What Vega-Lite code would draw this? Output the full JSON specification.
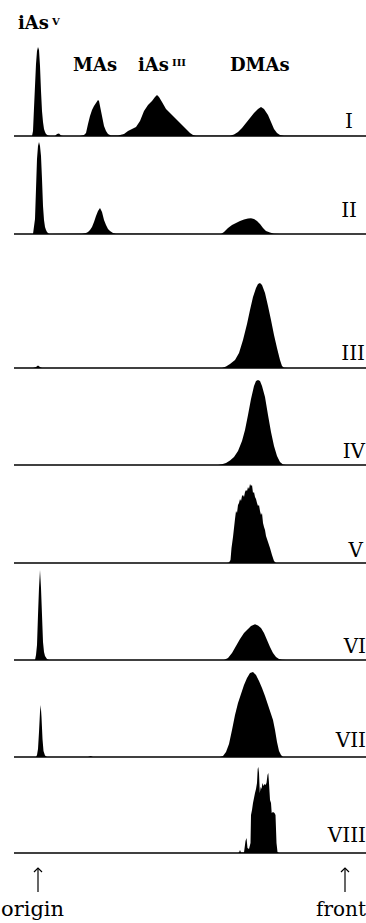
{
  "$schema": "https://vega.github.io/schema/vega-lite/v6.json",
  "padding": {"left": 1, "top": 0, "right": 0, "bottom": 0},
  "background": "white",
  "bounds": "flush",
  "spacing": 0,
  "resolve": {"scale": {"y": "independent"}},
  "config": {"view": {"stroke": null}, "axis": {"disable": true, "grid": false, "domain": false, "ticks": false, "labels": false, "title": null, "minExtent": 0, "maxExtent": 0}, "text": {"color": "black"}},
  "datasets": {
    "p1": [{"d":-24,"s":0},{"d":-6,"s":0},{"d":-5,"s":5},{"d":-4,"s":28},{"d":-3,"s":50},{"d":-2,"s":72},{"d":-1,"s":85},{"d":0,"s":89},{"d":1,"s":86},{"d":2,"s":70},{"d":3,"s":45},{"d":4,"s":25},{"d":5,"s":14},{"d":6,"s":7},{"d":7,"s":4},{"d":8,"s":2},{"d":10,"s":0.5},{"d":12,"s":0},{"d":17,"s":0},{"d":19,"s":2},{"d":21,"s":2.5},{"d":23,"s":0.5},{"d":25,"s":0},{"d":42,"s":0},{"d":46,"s":1},{"d":48,"s":3},{"d":50,"s":12},{"d":52,"s":20},{"d":54,"s":26},{"d":56,"s":30},{"d":58,"s":33},{"d":60,"s":36},{"d":61,"s":35},{"d":62,"s":30},{"d":64,"s":20},{"d":66,"s":10},{"d":68,"s":5},{"d":70,"s":2},{"d":73,"s":0.5},{"d":76,"s":0.5},{"d":80,"s":0.5},{"d":86,"s":2},{"d":90,"s":5},{"d":94,"s":7},{"d":98,"s":9},{"d":102,"s":15},{"d":106,"s":25},{"d":110,"s":31},{"d":114,"s":35},{"d":117,"s":39},{"d":119,"s":41},{"d":121,"s":39},{"d":124,"s":34},{"d":128,"s":27},{"d":132,"s":23},{"d":136,"s":19},{"d":140,"s":15},{"d":144,"s":11},{"d":148,"s":7},{"d":152,"s":3},{"d":155,"s":1},{"d":158,"s":0.3},{"d":170,"s":0.2},{"d":192,"s":0.3},{"d":196,"s":1.5},{"d":200,"s":4},{"d":204,"s":8},{"d":208,"s":13},{"d":212,"s":18},{"d":216,"s":23},{"d":220,"s":27},{"d":223,"s":29},{"d":226,"s":27},{"d":230,"s":21},{"d":233,"s":14},{"d":236,"s":7},{"d":239,"s":3},{"d":242,"s":1},{"d":246,"s":0.2},{"d":328,"s":0}],
    "p2": [{"d":-24,"s":0},{"d":-5,"s":0},{"d":-3,"s":15},{"d":-2,"s":45},{"d":-1,"s":75},{"d":0,"s":88},{"d":1,"s":92},{"d":2,"s":88},{"d":3,"s":78},{"d":4,"s":55},{"d":5,"s":28},{"d":6,"s":14},{"d":7,"s":7},{"d":8,"s":4},{"d":9,"s":2},{"d":11,"s":0},{"d":44,"s":0.3},{"d":48,"s":1},{"d":50,"s":2},{"d":52,"s":4},{"d":54,"s":7},{"d":56,"s":12},{"d":58,"s":18},{"d":60,"s":23},{"d":62,"s":26},{"d":64,"s":22},{"d":66,"s":14},{"d":68,"s":9},{"d":70,"s":5},{"d":72,"s":3},{"d":75,"s":1},{"d":78,"s":0.2},{"d":183,"s":0},{"d":186,"s":2},{"d":190,"s":6},{"d":194,"s":9},{"d":198,"s":11},{"d":202,"s":13},{"d":206,"s":14.5},{"d":210,"s":15.5},{"d":213,"s":15.7},{"d":216,"s":15},{"d":219,"s":13},{"d":222,"s":10},{"d":225,"s":6},{"d":228,"s":3},{"d":232,"s":1.5},{"d":236,"s":0.3},{"d":242,"s":0},{"d":328,"s":0}],
    "p3": [{"d":-24,"s":0},{"d":-5,"s":0},{"d":-2,"s":1},{"d":0,"s":2.5},{"d":2,"s":1},{"d":4,"s":0},{"d":184,"s":0},{"d":188,"s":1.5},{"d":192,"s":4},{"d":197,"s":8},{"d":201,"s":15},{"d":205,"s":28},{"d":209,"s":44},{"d":212,"s":58},{"d":215,"s":71},{"d":218,"s":80},{"d":220,"s":84},{"d":222,"s":85},{"d":224,"s":83},{"d":227,"s":75},{"d":230,"s":62},{"d":233,"s":48},{"d":236,"s":33},{"d":239,"s":20},{"d":242,"s":8},{"d":244,"s":2},{"d":246,"s":0.3},{"d":250,"s":0},{"d":328,"s":0}],
    "p4": [{"d":-24,"s":0},{"d":180,"s":0},{"d":184,"s":0.8},{"d":188,"s":2},{"d":192,"s":4.5},{"d":196,"s":8},{"d":200,"s":14},{"d":204,"s":24},{"d":207,"s":35},{"d":210,"s":50},{"d":213,"s":66},{"d":216,"s":79},{"d":218,"s":84},{"d":220,"s":85},{"d":222,"s":84},{"d":224,"s":79},{"d":227,"s":68},{"d":230,"s":50},{"d":233,"s":33},{"d":236,"s":19},{"d":239,"s":9},{"d":242,"s":3},{"d":245,"s":0.5},{"d":248,"s":0},{"d":328,"s":0}],
    "p5": [{"d":-24,"s":0},{"d":189,"s":0},{"d":191,"s":0.5},{"d":192.5,"s":3},{"d":193.5,"s":15},{"d":195,"s":26},{"d":196,"s":35},{"d":197,"s":44},{"d":198,"s":52},{"d":199,"s":50},{"d":200,"s":58},{"d":201,"s":60},{"d":202,"s":64},{"d":203,"s":62},{"d":204,"s":67},{"d":205,"s":68},{"d":206,"s":66},{"d":207,"s":71},{"d":208,"s":73},{"d":209,"s":72},{"d":210,"s":76},{"d":211,"s":74},{"d":212,"s":79},{"d":213,"s":77},{"d":214,"s":78},{"d":215,"s":70},{"d":216,"s":71},{"d":217,"s":66},{"d":218,"s":64},{"d":219,"s":60},{"d":220,"s":57},{"d":221,"s":58},{"d":222,"s":52},{"d":223,"s":48},{"d":224,"s":50},{"d":225,"s":40},{"d":226,"s":36},{"d":227,"s":33},{"d":228,"s":27},{"d":229,"s":24},{"d":230,"s":21},{"d":232,"s":15},{"d":234,"s":8},{"d":236,"s":2},{"d":238,"s":0},{"d":328,"s":0}],
    "p6": [{"d":-24,"s":0},{"d":-3,"s":0},{"d":-2,"s":5},{"d":-1,"s":15},{"d":0,"s":45},{"d":1,"s":72},{"d":2,"s":90},{"d":3,"s":72},{"d":4,"s":45},{"d":5,"s":18},{"d":6,"s":8},{"d":7,"s":4},{"d":9,"s":1},{"d":11,"s":0},{"d":186,"s":0},{"d":190,"s":2},{"d":194,"s":7},{"d":198,"s":14},{"d":202,"s":21},{"d":206,"s":27},{"d":210,"s":31},{"d":213,"s":34},{"d":217,"s":35.7},{"d":220,"s":34.5},{"d":223,"s":32},{"d":226,"s":27},{"d":229,"s":20},{"d":232,"s":13},{"d":235,"s":7},{"d":238,"s":3},{"d":241,"s":1},{"d":244,"s":0.3},{"d":248,"s":0},{"d":328,"s":0}],
    "p7": [{"d":-24,"s":0},{"d":-2,"s":0},{"d":-1,"s":2},{"d":0,"s":8},{"d":1,"s":25},{"d":2,"s":45},{"d":2.7,"s":52},{"d":3.5,"s":40},{"d":4.5,"s":18},{"d":5.5,"s":6},{"d":7,"s":1.5},{"d":9,"s":0},{"d":50,"s":0},{"d":52.7,"s":1},{"d":55,"s":0},{"d":182,"s":0},{"d":185,"s":1},{"d":188,"s":5},{"d":191,"s":13},{"d":194,"s":27},{"d":197,"s":42},{"d":200,"s":54},{"d":203,"s":63},{"d":206,"s":72},{"d":209,"s":79},{"d":212,"s":84},{"d":215,"s":85},{"d":218,"s":82},{"d":221,"s":76},{"d":224,"s":69},{"d":227,"s":61},{"d":230,"s":52},{"d":233,"s":43},{"d":235,"s":37},{"d":237,"s":27},{"d":239,"s":15},{"d":241,"s":6},{"d":243,"s":2},{"d":245,"s":0},{"d":328,"s":0}],
    "p8": [{"d":-24,"s":0},{"d":200,"s":0},{"d":201,"s":0.5},{"d":202,"s":3},{"d":203,"s":0.5},{"d":206,"s":0.5},{"d":207.5,"s":12},{"d":208.5,"s":15},{"d":209.5,"s":5},{"d":211,"s":4},{"d":212.5,"s":10},{"d":213,"s":38},{"d":214,"s":43},{"d":215,"s":50},{"d":216,"s":55},{"d":217,"s":60},{"d":218,"s":64},{"d":219,"s":70},{"d":219.7,"s":84},{"d":220.3,"s":86},{"d":221,"s":80},{"d":221.8,"s":60},{"d":222.7,"s":66},{"d":223.5,"s":64},{"d":224.5,"s":70},{"d":225.5,"s":67},{"d":226.5,"s":69},{"d":227.5,"s":68},{"d":228.5,"s":70},{"d":229.5,"s":78},{"d":230.3,"s":80},{"d":231,"s":70},{"d":232,"s":53},{"d":233,"s":50},{"d":233.7,"s":40},{"d":235,"s":41},{"d":236.5,"s":40},{"d":237.5,"s":38},{"d":238.5,"s":10},{"d":239.5,"s":1},{"d":241,"s":0},{"d":328,"s":0}],
    "marks": [{"place": "origin", "d": 0}, {"place": "front", "d": 307}]
  },
  "vconcat": [
    {
      "width": 352, "height": 136,
      "layer": [
        {"data": {"name": "p1"}, "mark": {"type": "area", "color": "black", "interpolate": "linear"},
         "encoding": {"x": {"field": "d", "type": "quantitative", "scale": {"domain": [-24, 328], "nice": false, "zero": false}, "axis": null},
                      "y": {"field": "s", "type": "quantitative", "scale": {"domain": [0, 136], "nice": false}, "axis": null}}},
        {"data": {"values": [{}]}, "mark": {"type": "rule", "color": "black", "strokeWidth": 1.5}, "encoding": {"y": {"datum": 0, "axis": null}}},
        {"data": {"values": [{"label": "iAs"}]}, "mark": {"type": "text", "font": "DejaVu Serif", "fontWeight": "bold", "fontSize": 18, "align": "left", "baseline": "alphabetic"},
         "encoding": {"x": {"datum": -20, "axis": null}, "y": {"datum": 107, "axis": null}, "text": {"field": "label"}}},
        {"data": {"values": [{"label": "V"}]}, "mark": {"type": "text", "font": "DejaVu Serif", "fontWeight": "bold", "fontSize": 10, "align": "left", "baseline": "alphabetic"},
         "encoding": {"x": {"datum": 14, "axis": null}, "y": {"datum": 111, "axis": null}, "text": {"field": "label"}}},
        {"data": {"values": [{"label": "MAs"}]}, "mark": {"type": "text", "font": "DejaVu Serif", "fontWeight": "bold", "fontSize": 18, "align": "left", "baseline": "alphabetic"},
         "encoding": {"x": {"datum": 35, "axis": null}, "y": {"datum": 65, "axis": null}, "text": {"field": "label"}}},
        {"data": {"values": [{"label": "iAs"}]}, "mark": {"type": "text", "font": "DejaVu Serif", "fontWeight": "bold", "fontSize": 18, "align": "left", "baseline": "alphabetic"},
         "encoding": {"x": {"datum": 100, "axis": null}, "y": {"datum": 65, "axis": null}, "text": {"field": "label"}}},
        {"data": {"values": [{"label": "III"}]}, "mark": {"type": "text", "font": "DejaVu Serif", "fontWeight": "bold", "fontSize": 10, "align": "left", "baseline": "alphabetic"},
         "encoding": {"x": {"datum": 134, "axis": null}, "y": {"datum": 70, "axis": null}, "text": {"field": "label"}}},
        {"data": {"values": [{"label": "DMAs"}]}, "mark": {"type": "text", "font": "DejaVu Serif", "fontWeight": "bold", "fontSize": 18, "align": "left", "baseline": "alphabetic"},
         "encoding": {"x": {"datum": 192, "axis": null}, "y": {"datum": 65, "axis": null}, "text": {"field": "label"}}},
        {"data": {"values": [{"label": "I"}]}, "mark": {"type": "text", "font": "DejaVu Serif", "fontSize": 20, "align": "right", "baseline": "alphabetic"},
         "encoding": {"x": {"datum": 315, "axis": null}, "y": {"datum": 8, "axis": null}, "text": {"field": "label"}}}
      ]
    },
    {
      "width": 352, "height": 98,
      "layer": [
        {"data": {"name": "p2"}, "mark": {"type": "area", "color": "black", "interpolate": "linear"},
         "encoding": {"x": {"field": "d", "type": "quantitative", "scale": {"domain": [-24, 328], "nice": false, "zero": false}, "axis": null},
                      "y": {"field": "s", "type": "quantitative", "scale": {"domain": [0, 98], "nice": false}, "axis": null}}},
        {"data": {"values": [{}]}, "mark": {"type": "rule", "color": "black", "strokeWidth": 1.5}, "encoding": {"y": {"datum": 0, "axis": null}}},
        {"data": {"values": [{"label": "II"}]}, "mark": {"type": "text", "font": "DejaVu Serif", "fontSize": 20, "align": "right", "baseline": "alphabetic"},
         "encoding": {"x": {"datum": 319, "axis": null}, "y": {"datum": 17, "axis": null}, "text": {"field": "label"}}}
      ]
    },
    {
      "width": 352, "height": 134,
      "layer": [
        {"data": {"name": "p3"}, "mark": {"type": "area", "color": "black", "interpolate": "linear"},
         "encoding": {"x": {"field": "d", "type": "quantitative", "scale": {"domain": [-24, 328], "nice": false, "zero": false}, "axis": null},
                      "y": {"field": "s", "type": "quantitative", "scale": {"domain": [0, 134], "nice": false}, "axis": null}}},
        {"data": {"values": [{}]}, "mark": {"type": "rule", "color": "black", "strokeWidth": 1.5}, "encoding": {"y": {"datum": 0, "axis": null}}},
        {"data": {"values": [{"label": "III"}]}, "mark": {"type": "text", "font": "DejaVu Serif", "fontSize": 20, "align": "right", "baseline": "alphabetic"},
         "encoding": {"x": {"datum": 327, "axis": null}, "y": {"datum": 8, "axis": null}, "text": {"field": "label"}}}
      ]
    },
    {
      "width": 352, "height": 97,
      "layer": [
        {"data": {"name": "p4"}, "mark": {"type": "area", "color": "black", "interpolate": "linear"},
         "encoding": {"x": {"field": "d", "type": "quantitative", "scale": {"domain": [-24, 328], "nice": false, "zero": false}, "axis": null},
                      "y": {"field": "s", "type": "quantitative", "scale": {"domain": [0, 97], "nice": false}, "axis": null}}},
        {"data": {"values": [{}]}, "mark": {"type": "rule", "color": "black", "strokeWidth": 1.5}, "encoding": {"y": {"datum": 0, "axis": null}}},
        {"data": {"values": [{"label": "IV"}]}, "mark": {"type": "text", "font": "DejaVu Serif", "fontSize": 20, "align": "right", "baseline": "alphabetic"},
         "encoding": {"x": {"datum": 327, "axis": null}, "y": {"datum": 7, "axis": null}, "text": {"field": "label"}}}
      ]
    },
    {
      "width": 352, "height": 98,
      "layer": [
        {"data": {"name": "p5"}, "mark": {"type": "area", "color": "black", "interpolate": "linear"},
         "encoding": {"x": {"field": "d", "type": "quantitative", "scale": {"domain": [-24, 328], "nice": false, "zero": false}, "axis": null},
                      "y": {"field": "s", "type": "quantitative", "scale": {"domain": [0, 98], "nice": false}, "axis": null}}},
        {"data": {"values": [{}]}, "mark": {"type": "rule", "color": "black", "strokeWidth": 1.5}, "encoding": {"y": {"datum": 0, "axis": null}}},
        {"data": {"values": [{"label": "V"}]}, "mark": {"type": "text", "font": "DejaVu Serif", "fontSize": 20, "align": "right", "baseline": "alphabetic"},
         "encoding": {"x": {"datum": 325, "axis": null}, "y": {"datum": 6, "axis": null}, "text": {"field": "label"}}}
      ]
    },
    {
      "width": 352, "height": 97,
      "layer": [
        {"data": {"name": "p6"}, "mark": {"type": "area", "color": "black", "interpolate": "linear"},
         "encoding": {"x": {"field": "d", "type": "quantitative", "scale": {"domain": [-24, 328], "nice": false, "zero": false}, "axis": null},
                      "y": {"field": "s", "type": "quantitative", "scale": {"domain": [0, 97], "nice": false}, "axis": null}}},
        {"data": {"values": [{}]}, "mark": {"type": "rule", "color": "black", "strokeWidth": 1.5}, "encoding": {"y": {"datum": 0, "axis": null}}},
        {"data": {"values": [{"label": "VI"}]}, "mark": {"type": "text", "font": "DejaVu Serif", "fontSize": 20, "align": "right", "baseline": "alphabetic"},
         "encoding": {"x": {"datum": 328, "axis": null}, "y": {"datum": 7, "axis": null}, "text": {"field": "label"}}}
      ]
    },
    {
      "width": 352, "height": 97,
      "layer": [
        {"data": {"name": "p7"}, "mark": {"type": "area", "color": "black", "interpolate": "linear"},
         "encoding": {"x": {"field": "d", "type": "quantitative", "scale": {"domain": [-24, 328], "nice": false, "zero": false}, "axis": null},
                      "y": {"field": "s", "type": "quantitative", "scale": {"domain": [0, 97], "nice": false}, "axis": null}}},
        {"data": {"values": [{}]}, "mark": {"type": "rule", "color": "black", "strokeWidth": 1.5}, "encoding": {"y": {"datum": 0, "axis": null}}},
        {"data": {"values": [{"label": "VII"}]}, "mark": {"type": "text", "font": "DejaVu Serif", "fontSize": 20, "align": "right", "baseline": "alphabetic"},
         "encoding": {"x": {"datum": 328, "axis": null}, "y": {"datum": 10, "axis": null}, "text": {"field": "label"}}}
      ]
    },
    {
      "width": 352, "height": 96,
      "layer": [
        {"data": {"name": "p8"}, "mark": {"type": "area", "color": "black", "interpolate": "linear"},
         "encoding": {"x": {"field": "d", "type": "quantitative", "scale": {"domain": [-24, 328], "nice": false, "zero": false}, "axis": null},
                      "y": {"field": "s", "type": "quantitative", "scale": {"domain": [0, 96], "nice": false}, "axis": null}}},
        {"data": {"values": [{}]}, "mark": {"type": "rule", "color": "black", "strokeWidth": 1.5}, "encoding": {"y": {"datum": 0, "axis": null}}},
        {"data": {"values": [{"label": "VIII"}]}, "mark": {"type": "text", "font": "DejaVu Serif", "fontSize": 20, "align": "right", "baseline": "alphabetic"},
         "encoding": {"x": {"datum": 328, "axis": null}, "y": {"datum": 11, "axis": null}, "text": {"field": "label"}}}
      ]
    },
    {
      "width": 352, "height": 70,
      "layer": [
        {"data": {"name": "marks"}, "mark": {"type": "rule", "color": "black", "strokeWidth": 1.2},
         "encoding": {"x": {"field": "d", "type": "quantitative", "scale": {"domain": [-24, 328], "nice": false, "zero": false}, "axis": null},
                      "y": {"datum": 31, "scale": {"domain": [0, 70], "nice": false}, "axis": null}, "y2": {"datum": 55}}},
        {"data": {"name": "marks"}, "mark": {"type": "point", "shape": "M-1,1L0,0L1,1", "filled": false, "color": "black", "strokeWidth": 1.2, "size": 64, "opacity": 1},
         "encoding": {"x": {"field": "d", "type": "quantitative", "axis": null}, "y": {"datum": 55, "axis": null}}},
        {"data": {"values": [{"label": "origin"}]}, "mark": {"type": "text", "font": "DejaVu Serif", "fontSize": 21, "align": "left", "baseline": "alphabetic"},
         "encoding": {"x": {"datum": -37, "axis": null}, "y": {"datum": 7, "axis": null}, "text": {"field": "label"}}},
        {"data": {"values": [{"label": "front"}]}, "mark": {"type": "text", "font": "DejaVu Serif", "fontSize": 20, "align": "left", "baseline": "alphabetic"},
         "encoding": {"x": {"datum": 278, "axis": null}, "y": {"datum": 7, "axis": null}, "text": {"field": "label"}}}
      ]
    }
  ]
}
